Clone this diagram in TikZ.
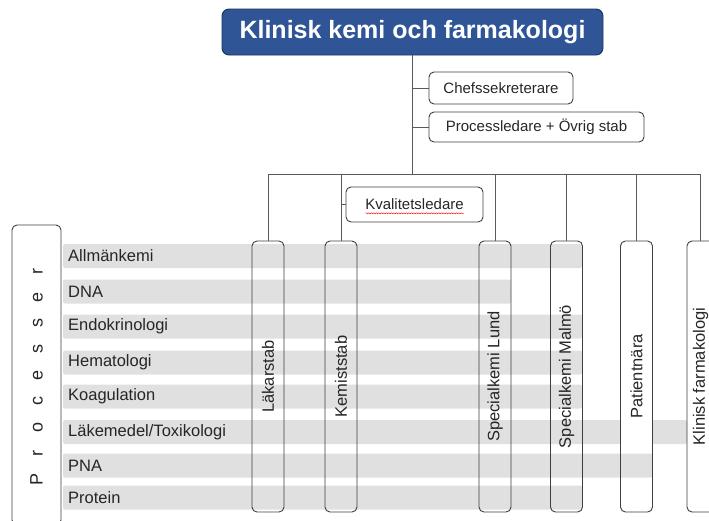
\documentclass[tikz,border=0pt]{standalone}
\usepackage{fontspec}
\setmainfont{Liberation Sans}
\usetikzlibrary{decorations.pathmorphing}
\definecolor{kkblue}{HTML}{2F5597}
\definecolor{kkband}{HTML}{E0E0E0}
\definecolor{kkline}{HTML}{595959}
\definecolor{kktext}{HTML}{262626}
\begin{document}
\begin{tikzpicture}[x=1pt,y=-1pt,
        ruta/.style={rectangle,rounded corners=5pt,draw=kkline!70!black,line width=0.9pt,inner sep=0pt,text=kktext},
        stab/.style={ruta,font=\fontsize{15}{18}\selectfont},
        kolumn/.style={ruta,rotate=90,font=\fontsize{16.5}{20}\selectfont,minimum width=271pt,minimum height=32pt},
        rad/.style={anchor=west,inner sep=0pt,text=kktext,font=\fontsize{16.5}{20}\selectfont},
        band/.style={fill=kkband,rounded corners=2pt},
        linje/.style={draw=kkline,line width=1pt}]
        \useasboundingbox (0,0) rectangle (709,520);
        % grey process bands
        \foreach \y/\h in {256/582,291.5/511,326.5/582,362.5/582,396.5/582,432/621,465.5/652.5,497.5/582}
            \fill[band] (63,\y-12) rectangle (\h,\y+12);
        \fill[band] (652.5,420) rectangle (687,444);
        \foreach \y/\t [count=\i] in {256/Allmänkemi,291.5/DNA,326.5/Endokrinologi,362.5/Hematologi,396.5/Koagulation,432/{Läkemedel/Toxikologi},465.5/PNA,497.5/Protein}
            \node at (68,\y) [rad] (rad\i) {\t};
        % boxes
        \node at (412.5,32) [rectangle,rounded corners=7pt,fill=kkblue,draw=kkblue!60!black,line width=0.9pt,minimum width=381pt,minimum height=46pt,text=white,font=\bfseries\fontsize{25}{30}\selectfont] (titel) {Klinisk kemi och farmakologi};
        \node at (501,88) [stab,minimum width=144pt,minimum height=32pt] (chef) {Chefssekreterare};
        \node at (536.5,127) [stab,minimum width=215pt,minimum height=30pt] (proc) {Processledare + Övrig stab};
        \node at (414.5,204.5) [stab,minimum width=137pt,minimum height=35pt] (kval) {Kvalitetsledare};
        \node at (36.5,375) [ruta,rotate=90,minimum width=300pt,minimum height=49pt,font=\fontsize{18}{20}\selectfont] (processer)
            {\makebox[26pt]{P}\makebox[26pt]{r}\makebox[26pt]{o}\makebox[26pt]{c}\makebox[26pt]{e}\makebox[26pt]{s}\makebox[26pt]{s}\makebox[26pt]{e}\makebox[26pt]{r}};
        \node at (268,376.5) [kolumn] (lakar) {Läkarstab};
        \node at (341,376.5) [kolumn] (kemist) {Kemiststab};
        \node at (495,376.5) [kolumn] (lund) {Specialkemi Lund};
        \node at (566.5,376.5) [kolumn] (malmo) {Specialkemi Malmö};
        \node at (636.5,376.5) [kolumn] (patient) {Patientnära};
        \node at (700.5,376.5) [kolumn,minimum height=27pt] (klinfarm) {Klinisk farmakologi};
        % lines
        \coordinate (busV) at (268,174);
        \draw[linje] (titel.south) -- (titel.south |- busV);
        \draw[linje] (busV) -- (busV -| klinfarm.east);
        \draw[linje] (chef.west) -- (chef.west -| titel.south);
        \draw[linje] (proc.west) -- (proc.west -| titel.south);
        \foreach \k in {lakar,kemist,lund,malmo,patient,klinfarm}
            \draw[linje] (\k.east) -- (\k.east |- busV);
        \draw[linje] (kval.west) -- (kval.west -| kemist.east);
        \draw[red,line width=0.4pt,decorate,decoration={snake,amplitude=0.6pt,segment length=2.5pt}]
            ([xshift=-49pt,yshift=-3.5pt]kval.base) -- ([xshift=49pt,yshift=-3.5pt]kval.base);
\end{tikzpicture}
\end{document}
